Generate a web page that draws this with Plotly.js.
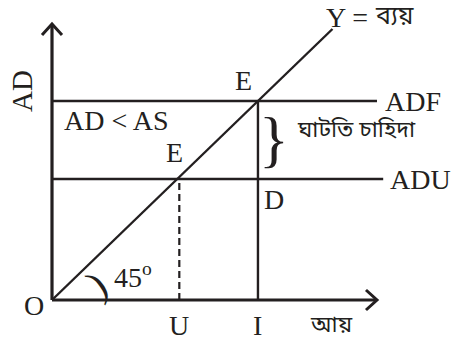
<!DOCTYPE html>
<html>
<head>
<meta charset="utf-8">
<script src="https://cdn.plot.ly/plotly-3.0.1.min.js"></script>
<style>
  html, body { margin: 0; padding: 0; background: #fff; }
  #chart { width: 454px; height: 347px; }
</style>
</head>
<body>
<div id="chart"></div>
<script>
// Model values (income on x, aggregate demand on y)
const axisLength = [314, 276];        // x axis end, y axis end
const demandLevels = [199, 121];      // ADF, ADU
const demandNames = ['ADF', 'ADU'];
const demandLineEnds = [314, 320];
const incomePoints = [199, 123];      // I, U
const incomeNames = ['I', 'U'];
const diagonal = [0, 271];            // Y = expenditure line (45°)
const arrowSize = [10, 11];           // half width, length

const ink = '#231f20';
const serif = 'Liberation Serif, Tinos, Times New Roman, DejaVu Serif, serif';
const bengali = 'Noto Sans Bengali, Noto Serif Bengali, Lohit Bengali, sans-serif';
const kx = 1.035;

function line(x, y, width, dash) {
    return {
        x: x, y: y, mode: 'lines', type: 'scatter', hoverinfo: 'skip',
        line: {color: ink, width: width, dash: dash || 'solid'}
    };
}

var data = [];

// axes with open arrowheads
data.push(line([0, axisLength[0]], [0, 0], 3.2));
data.push(line([0, 0], [0, axisLength[1]], 3.2));
data.push(line([axisLength[0] - arrowSize[1] / kx, axisLength[0], axisLength[0] - arrowSize[1] / kx],
               [arrowSize[0], 0, -arrowSize[0]], 3));
data.push(line([-arrowSize[0] / kx, 0, arrowSize[0] / kx],
               [axisLength[1] - arrowSize[1], axisLength[1], axisLength[1] - arrowSize[1]], 3));

// 45 degree line
data.push(line(diagonal, diagonal, 2.4));

// ADF / ADU
for (let i = 0; i < demandLevels.length; i++) {
    data.push(line([0, demandLineEnds[i]], [demandLevels[i], demandLevels[i]], 2.4));
}

// I (solid) and U (dashed) verticals
data.push(line([incomePoints[0], incomePoints[0]], [0, demandLevels[0]], 2.4));
data.push(line([incomePoints[1], incomePoints[1]], [0, demandLevels[1]], 2.2, '7px,4px'));

function label(text, x, y, size, opts) {
    return Object.assign({
        text: text, x: x, y: y, xref: 'x', yref: 'y', showarrow: false,
        font: {family: serif, size: size, color: ink}
    }, opts || {});
}

function bn(text, x, y, size, opts) {
    return label(text, x, y, size, Object.assign({font: {family: bengali, size: size, color: ink}}, opts || {}));
}

var annotations = [
    label('AD', -29, 209, 29, {textangle: -90}),
    label('AD &lt; AS', 9.5, 180, 28, {xanchor: 'left'}),
    label('E', 118, 148, 28),
    label('E', 185.5, 220, 28),
    label('Y =', 263, 283, 28, {xanchor: 'left'}),
    bn('ব্যয়', 310, 283, 25, {xanchor: 'left'}),
    label(demandNames[0], 320, demandLevels[0], 28, {xanchor: 'left'}),
    label(demandNames[1], 324.5, demandLevels[1], 28, {xanchor: 'left'}),
    label('}', 214.5, 161, 62),
    bn('ঘাটতি চাহিদা', 235, 169, 23, {xanchor: 'left'}),
    label('D', 214.5, 101, 28),
    label('45<sup>o</sup>', 58, 25, 28, {xanchor: 'left'}),
    label(')', 43, 16, 40, {textangle: -35}),
    label('O', -17.4, -5, 28),
    label(incomeNames[1], incomePoints[1], -25, 28),
    label(incomeNames[0], incomePoints[0], -25, 28),
    bn('আয়', 269.6, -26, 23)
];

var layout = {
    width: 454,
    height: 347,
    margin: {l: 0, r: 0, t: 0, b: 0},
    paper_bgcolor: '#fff',
    plot_bgcolor: '#fff',
    showlegend: false,
    xaxis: {range: [-52 / kx, 402 / kx], visible: false, fixedrange: true},
    yaxis: {range: [-47, 300], visible: false, fixedrange: true},
    annotations: annotations
};

Plotly.newPlot('chart', data, layout, {staticPlot: true});
</script>
</body>
</html>
